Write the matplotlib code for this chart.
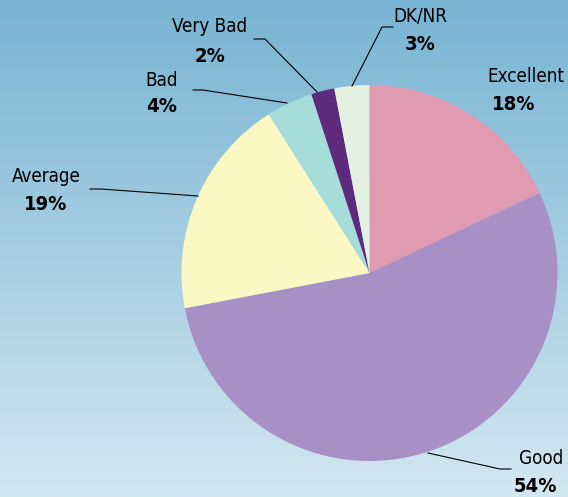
import numpy as np
import matplotlib.pyplot as plt
from matplotlib.colors import LinearSegmentedColormap

# pie data, clockwise from 12 o'clock
labels = ["Excellent", "Good", "Average", "Bad", "Very Bad", "DK/NR"]
values = [18, 54, 19, 4, 2, 3]
colors = ["#e09ab2", "#a88fc5", "#fcf8c4", "#a6dcda", "#5e2a7c", "#e4f0e0"]

# label positions in pixels (x, y from top) and leader lines
label_pos = {
    "Excellent": (526, 77, 514, 105),
    "Good": (541, 458, 535, 486),
    "Average": (46, 177, 46, 205),
    "Bad": (162, 80, 162, 106),
    "Very Bad": (210, 27, 210, 56),
    "DK/NR": (420, 17, 420, 45),
}
leaders = {
    "Good": [(428, 453), (500, 469), (511, 469)],
    "Average": [(90, 189), (101, 189), (198, 196)],
    "Bad": [(193, 90), (203, 90), (287, 103)],
    "Very Bad": [(254, 39), (265, 39), (317, 92)],
    "DK/NR": [(393, 27), (382, 27), (352, 86)],
}

W, H = 568, 497
fig = plt.figure(figsize=(W / 100, H / 100), dpi=100)
ax = fig.add_axes([0, 0, 1, 1])

# background gradient
cmap = LinearSegmentedColormap.from_list("bg", ["#d3e7f1", "#78b4d3"])
grad = np.linspace(0, 1, 256).reshape(-1, 1)
ax.imshow(grad, cmap=cmap, extent=[0, W, 0, H], aspect="auto", origin="lower", zorder=0)

ax.pie(values, colors=colors, startangle=90, counterclock=False,
       center=(369.5, H - 273), radius=188, frame=True,
       wedgeprops=dict(linewidth=0, zorder=2))
ax.set_xlim(0, W)
ax.set_ylim(0, H)
ax.set_aspect("auto")
ax.axis("off")

pct = dict(zip(labels, values))
for name in labels:
    x1, y1, x2, y2 = label_pos[name]
    ax.text(x1, H - y1, name, ha="center", va="center", fontsize=13.5,
            family="DejaVu Sans", fontstretch="condensed", zorder=5)
    ax.text(x2, H - y2, f"{pct[name]}%", ha="center", va="center", fontsize=14.5,
            fontweight="bold", family="DejaVu Sans", fontstretch="condensed", zorder=5)

for name, pts in leaders.items():
    xs = [p[0] for p in pts]
    ys = [H - p[1] for p in pts]
    ax.plot(xs, ys, color="black", lw=0.8, zorder=4)

fig.savefig("out.png", dpi=100)
